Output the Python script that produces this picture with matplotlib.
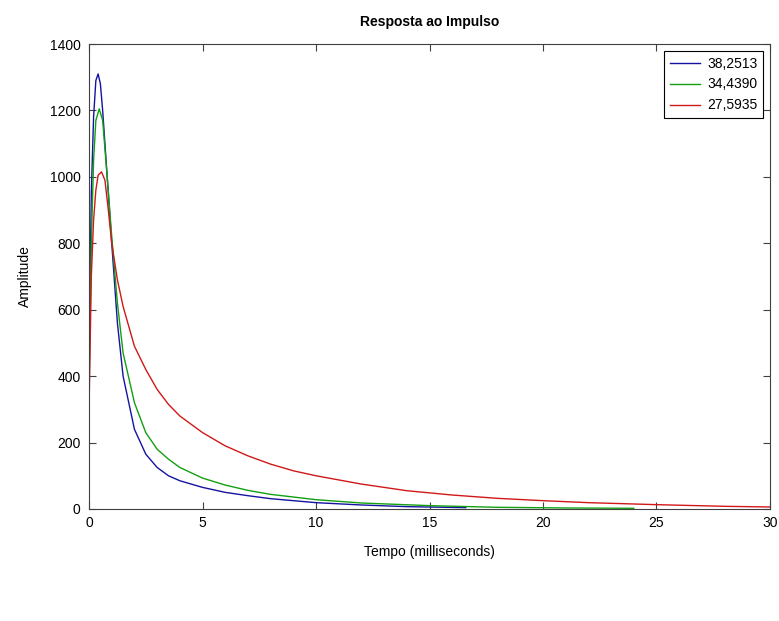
import matplotlib
matplotlib.use('Agg')
import matplotlib.pyplot as plt
import numpy as np

plt.rcParams.update({'font.family': ['Liberation Sans', 'DejaVu Sans'], 'font.size': 10})

# impulse responses, time in ms
t_blue = [0, 0.1, 0.2, 0.3, 0.4, 0.5, 0.6, 0.8, 1.0, 1.25, 1.5, 2, 2.5, 3, 3.5, 4, 5, 6, 7, 8, 10, 12, 14, 16.6]
y_blue = [450, 950, 1180, 1290, 1310, 1280, 1200, 1000, 800, 560, 400, 240, 165, 125, 100, 85, 65, 50, 40, 31, 19, 12, 7, 4]

t_green = [0, 0.1, 0.2, 0.3, 0.45, 0.6, 0.8, 1.0, 1.25, 1.5, 2, 2.5, 3, 3.5, 4, 5, 6, 7, 8, 10, 12, 15, 18, 21, 24]
y_green = [350, 800, 1050, 1170, 1205, 1170, 1000, 820, 620, 470, 320, 230, 180, 150, 125, 93, 72, 56, 44, 28, 18, 10, 5, 3, 2]

t_red = [0, 0.1, 0.2, 0.3, 0.4, 0.55, 0.7, 0.85, 1.0, 1.25, 1.5, 2, 2.5, 3, 3.5, 4, 5, 6, 7, 8, 9, 10,
         12, 14, 16, 18, 20, 22, 25, 28, 30]
y_red = [300, 700, 870, 960, 1005, 1015, 990, 900, 800, 690, 610, 490, 420, 360, 315, 280, 230, 190, 160, 135, 115, 100,
         75, 55, 42, 32, 25, 19, 13, 8, 6]

labels = ['38,2513', '34,4390', '27,5935']

fig = plt.figure(figsize=(7.79, 6.21), dpi=100)
ax = fig.add_axes([0.1143, 0.1804, 0.8741, 0.7487])

ax.plot(t_blue, y_blue, color='#1414a0', lw=1.0, label=labels[0])
ax.plot(t_green, y_green, color='#12a012', lw=1.0, label=labels[1])
ax.plot(t_red, y_red, color='#d01818', lw=1.0, label=labels[2])

ax.set_xlim(0, 30)
ax.set_ylim(0, 1400)
ax.set_xticks(np.arange(0, 31, 5))
ax.set_yticks(np.arange(0, 1401, 200))
ax.tick_params(direction='in', top=True, right=True, length=5, width=0.8, color='#404040')
ax.tick_params(axis='x', pad=5)
ax.tick_params(axis='y', pad=6)
for s in ax.spines.values():
    s.set_color('#404040')
    s.set_linewidth(0.8)

ax.set_title('Resposta ao Impulso', fontweight='bold', fontsize=10, pad=13)
ax.set_xlabel('Tempo (milliseconds)', labelpad=11)
ax.set_ylabel('Amplitude', labelpad=13)

leg = ax.legend(loc='upper right', fancybox=False, framealpha=1, edgecolor='black',
                handlelength=2.2, handletextpad=0.5, borderpad=0.4, borderaxespad=0.5,
                labelspacing=0.5, fontsize=10)
leg.get_frame().set_linewidth(0.8)

fig.savefig('out.png', dpi=100, facecolor='white')
